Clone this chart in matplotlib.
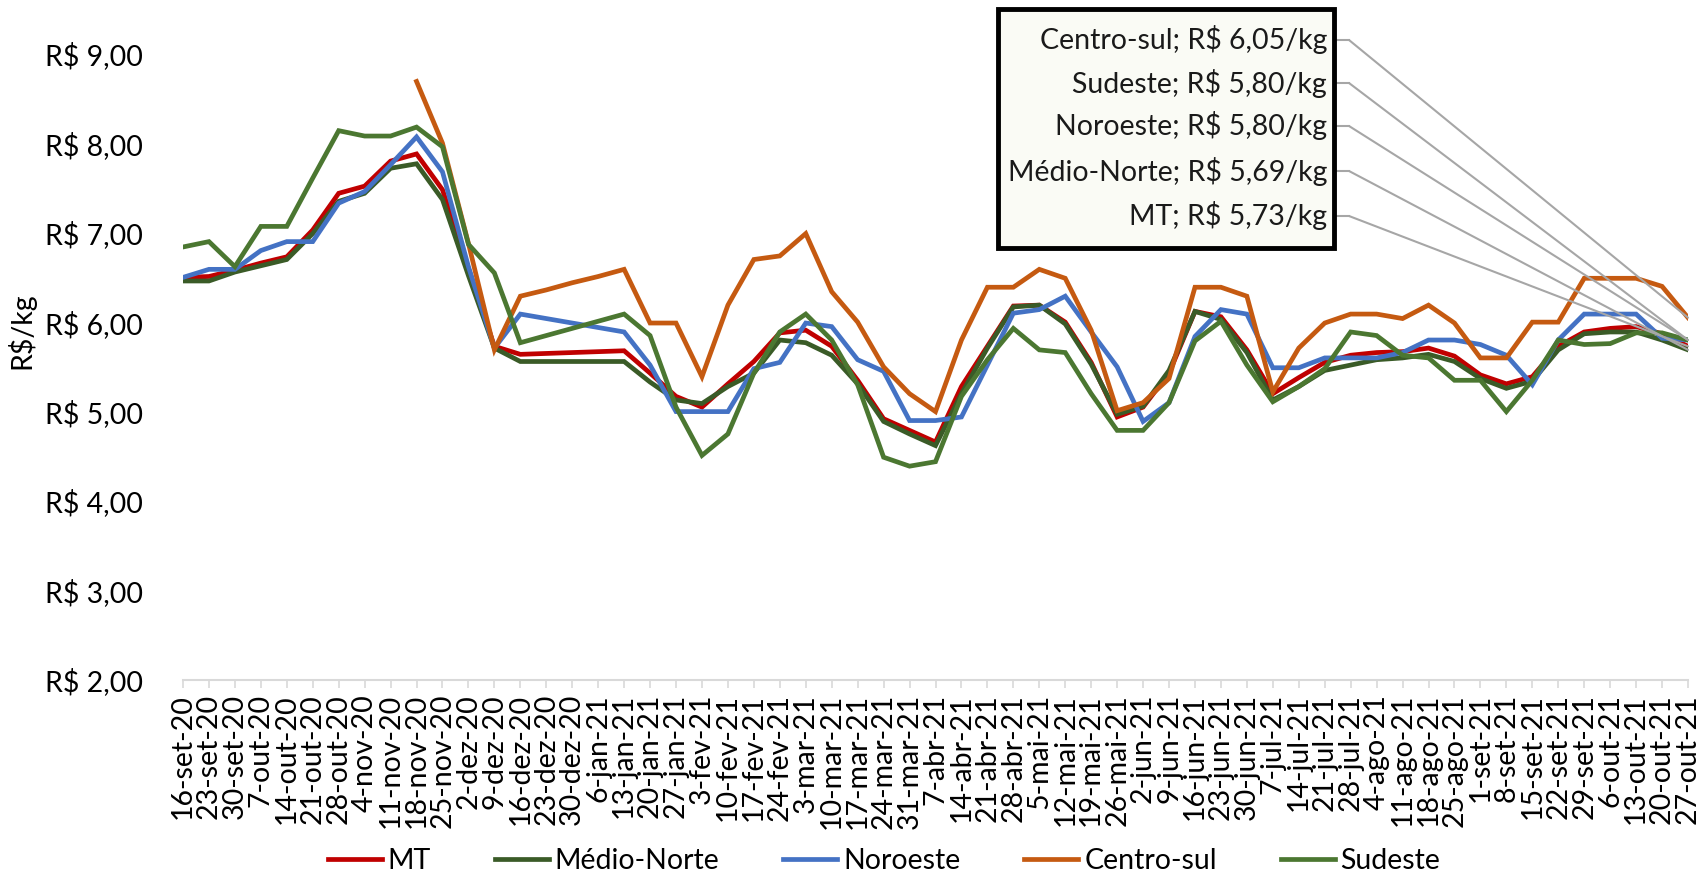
import matplotlib
matplotlib.use("Agg")
import matplotlib.pyplot as plt
from matplotlib.patches import Rectangle, ConnectionPatch
from matplotlib.lines import Line2D
import numpy as np

plt.rcParams['font.family'] = ['Lato', 'DejaVu Sans']

# semanas
datas = ['16-set-20', '23-set-20', '30-set-20', '7-out-20', '14-out-20', '21-out-20', '28-out-20',
         '4-nov-20', '11-nov-20', '18-nov-20', '25-nov-20', '2-dez-20', '9-dez-20', '16-dez-20',
         '23-dez-20', '30-dez-20', '6-jan-21', '13-jan-21', '20-jan-21', '27-jan-21', '3-fev-21',
         '10-fev-21', '17-fev-21', '24-fev-21', '3-mar-21', '10-mar-21', '17-mar-21', '24-mar-21',
         '31-mar-21', '7-abr-21', '14-abr-21', '21-abr-21', '28-abr-21', '5-mai-21', '12-mai-21',
         '19-mai-21', '26-mai-21', '2-jun-21', '9-jun-21', '16-jun-21', '23-jun-21', '30-jun-21',
         '7-jul-21', '14-jul-21', '21-jul-21', '28-jul-21', '4-ago-21', '11-ago-21', '18-ago-21',
         '25-ago-21', '1-set-21', '8-set-21', '15-set-21', '22-set-21', '29-set-21', '6-out-21',
         '13-out-21', '20-out-21', '27-out-21']

mt = [6.50, 6.51, 6.58, 6.66, 6.73, 7.03, 7.44, 7.52, 7.80, 7.88, 7.48, 6.60, 5.73, 5.64, 5.65,
      5.66, 5.67, 5.68, 5.43, 5.17, 5.05, 5.31, 5.56, 5.88, 5.91, 5.73, 5.35, 4.92, 4.79, 4.66,
      5.28, 5.73, 6.18, 6.19, 6.00, 5.55, 4.94, 5.05, 5.43, 6.12, 6.06, 5.69, 5.20, 5.38, 5.55,
      5.63, 5.66, 5.67, 5.71, 5.62, 5.41, 5.31, 5.39, 5.73, 5.89, 5.93, 5.95, 5.87, 5.73]

medio_norte = [6.46, 6.46, 6.56, 6.63, 6.70, 6.99, 7.35, 7.44, 7.72, 7.77, 7.37, 6.52, 5.71, 5.56,
               5.56, 5.56, 5.56, 5.56, 5.33, 5.13, 5.09, 5.28, 5.43, 5.80, 5.77, 5.63, 5.31, 4.89,
               4.75, 4.62, 5.20, 5.71, 6.17, 6.19, 5.98, 5.53, 4.97, 5.06, 5.46, 6.12, 6.03, 5.66,
               5.13, 5.28, 5.46, 5.52, 5.58, 5.60, 5.64, 5.56, 5.37, 5.26, 5.34, 5.69, 5.87, 5.89,
               5.89, 5.80, 5.69]

noroeste = [6.50, 6.59, 6.59, 6.80, 6.90, 6.90, 7.33, 7.46, 7.76, 8.07, 7.68, 6.62, 5.71, 6.09,
            6.04, 5.99, 5.94, 5.89, 5.52, 5.00, 5.00, 5.00, 5.48, 5.55, 5.99, 5.95, 5.58, 5.45,
            4.90, 4.90, 4.94, 5.52, 6.10, 6.14, 6.29, 5.89, 5.50, 4.89, 5.10, 5.84, 6.14, 6.09,
            5.49, 5.49, 5.60, 5.60, 5.60, 5.66, 5.80, 5.80, 5.75, 5.63, 5.30, 5.80, 6.09, 6.09,
            6.09, 5.82, 5.80]

centro_sul = [np.nan] * 9 + [8.69, 8.00, 6.88, 5.69, 6.29, 6.36, 6.44, 6.51, 6.59, 5.99, 5.99,
              5.39, 6.19, 6.70, 6.74, 6.99, 6.34, 6.00, 5.50, 5.20, 5.00, 5.80, 6.39, 6.39, 6.59,
              6.49, 5.91, 5.01, 5.10, 5.37, 6.39, 6.39, 6.29, 5.22, 5.71, 5.99, 6.09, 6.09, 6.04,
              6.19, 5.99, 5.60, 5.60, 6.00, 6.00, 6.49, 6.49, 6.49, 6.40, 6.05]

sudeste = [6.84, 6.90, 6.62, 7.07, 7.07, 7.61, 8.14, 8.08, 8.08, 8.18, 7.96, 6.87, 6.55, 5.77,
           5.85, 5.93, 6.01, 6.09, 5.85, 5.05, 4.51, 4.75, 5.43, 5.89, 6.09, 5.80, 5.30, 4.49,
           4.39, 4.44, 5.17, 5.58, 5.93, 5.69, 5.66, 5.20, 4.79, 4.79, 5.10, 5.79, 6.01, 5.52,
           5.11, 5.28, 5.48, 5.89, 5.85, 5.63, 5.60, 5.35, 5.35, 5.00, 5.35, 5.80, 5.75, 5.76,
           5.88, 5.88, 5.80]

nomes = ['MT', 'Médio-Norte', 'Noroeste', 'Centro-sul', 'Sudeste']
series = [mt, medio_norte, noroeste, centro_sul, sudeste]
cores = ['#C00000', '#3A5B27', '#4472C4', '#C55A11', '#4B7731']

W, H = 1704, 873
def fx(x):
    return x / W
def fy(y):
    # y medido a partir do topo
    return 1 - y / H

fig = plt.figure(figsize=(W / 100, H / 100), dpi=100)
ax = fig.add_axes([fx(183), fy(680), fx(1688) - fx(183), fy(9) - fy(680)])

x = np.arange(len(datas))
linhas = []
for nome, vals, cor in zip(nomes, series, cores):
    l, = ax.plot(x, vals, color=cor, lw=3.4, solid_joinstyle='miter', label=nome)
    linhas.append(l)

ax.set_xlim(0, len(datas) - 1)
ax.set_ylim(2, 9.5)
ax.set_yticks(range(2, 10))
ax.set_yticklabels([f'R$ {v},00' for v in range(2, 10)], fontsize=20.5)
ax.set_xticks(x)
ax.set_xticklabels(datas, rotation=90, fontsize=20.5, va='top', ha='center')
ax.tick_params(axis='y', length=0, pad=29)
ax.tick_params(axis='x', length=6, width=1.2, color='#D9D9D9', pad=4)
for s in ['left', 'top', 'right']:
    ax.spines[s].set_visible(False)
ax.spines['bottom'].set_color('#D9D9D9')
ax.spines['bottom'].set_linewidth(1.5)
ax.set_ylabel('R$/kg', fontsize=20.5)
ax.yaxis.set_label_coords(-0.098, 0.52)

# legenda
fig.legend(handles=linhas, loc='center', bbox_to_anchor=(fx(884), fy(861)), ncol=5,
           frameon=False, fontsize=20.5, handlelength=1.9, handletextpad=0.2,
           columnspacing=2.25)

# caixa com os rótulos do último valor
fig.add_artist(Rectangle((fx(998), fy(248)), fx(1334) - fx(998), fy(9) - fy(248),
                         transform=fig.transFigure, facecolor='#FAFBF5', edgecolor='black',
                         lw=3.5, zorder=5))
ordem = ['Centro-sul', 'Sudeste', 'Noroeste', 'Médio-Norte', 'MT']
ys = [40, 83, 126, 171, 216]
for nome, yy in zip(ordem, ys):
    vals = series[nomes.index(nome)]
    ultimo = vals[-1]
    txt = f'{nome}; R$ {ultimo:.2f}/kg'.replace('.', ',')
    fig.text(fx(1327), fy(yy), txt, ha='right', va='center', fontsize=20.5,
             color='#1A1A1A', zorder=6)
    fig.add_artist(Line2D([fx(1336), fx(1349)], [fy(yy), fy(yy)], transform=fig.transFigure,
                          color='#A6A6A6', lw=1.5, zorder=4))
    fig.add_artist(ConnectionPatch((fx(1349), fy(yy)), (len(datas) - 1, ultimo),
                                   coordsA=fig.transFigure, coordsB=ax.transData,
                                   color='#A6A6A6', lw=1.5, zorder=4))

fig.savefig('out.png', dpi=100)
